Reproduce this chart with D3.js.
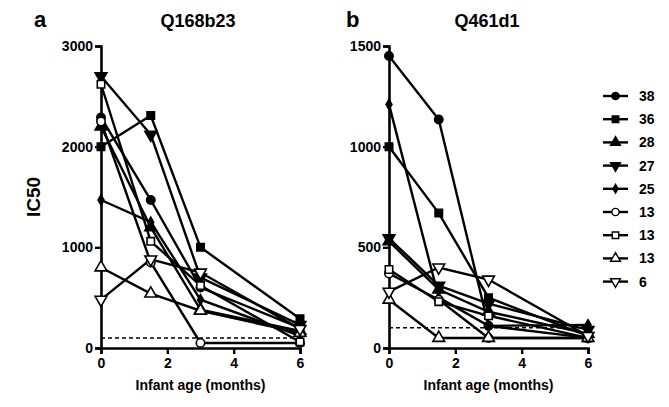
<!DOCTYPE html>
<html>
<head>
<meta charset="utf-8">
<script src="https://cdn.jsdelivr.net/npm/d3@7"></script>
<style>
  body { margin: 0; background: #fff; }
  text { font-family: "Liberation Sans", Arial, sans-serif; font-weight: bold; }
</style>
</head>
<body>
<svg id="chart" width="669" height="407"></svg>
<script>
// infant age (months)
var ages = [0, 1.5, 3, 6];
var seriesNames = ['38', '36', '28', '27', '25', '13', '13', '13', '6'];
var seriesShapes = ['circle', 'square', 'tri', 'tridown', 'diamond', 'circle', 'square', 'tri', 'tridown'];
var seriesOpen = [false, false, false, false, false, true, true, true, true];

// panel a - Q168b23
var q168 = [
  [2290, 1470, 600, 200],
  [2000, 2310, 1000, 290],
  [2200, 1200, 380, 170],
  [2700, 2120, 700, 230],
  [1470, 1250, 480, 120],
  [2250, 850, 50, 50],
  [2620, 1060, 620, 60],
  [800, 540, 370, 150],
  [480, 880, 750, 190]
];
// panel b - Q461d1
var q461 = [
  [1450, 1135, 110, 50],
  [1000, 670, 250, 60],
  [530, 290, 180, 70],
  [545, 310, 220, 90],
  [1210, 250, 110, 115],
  [370, 240, 50, 50],
  [390, 230, 160, 50],
  [240, 50, 50, 50],
  [280, 400, 340, 60]
];
var xTicks = [0, 2, 4, 6];
var cutoff = 100;

var svg = d3.select('#chart');

function symbolPath(shape, size) {
    var t = {circle: d3.symbolCircle, square: d3.symbolSquare, tri: d3.symbolTriangle,
             tridown: d3.symbolTriangle, diamond: d3.symbolDiamond}[shape];
    return d3.symbol().type(t).size(size)();
}

function drawPanel(opts) {
    var g = svg.append('g');
    var x = d3.scaleLinear().domain([0, 6]).range([opts.x0, opts.x0 + 199]);
    var y = d3.scaleLinear().domain([0, opts.ymax]).range([348, 46]);

    var yAx = g.append('g').attr('transform', 'translate(' + opts.x0 + ',0)')
        .call(d3.axisLeft(y).tickValues(opts.yTicks).tickFormat(d3.format('d')).tickSize(6).tickPadding(2));
    var xAx = g.append('g').attr('transform', 'translate(0,348)')
        .call(d3.axisBottom(x).tickValues(xTicks).tickFormat(d3.format('d')).tickSize(6).tickPadding(4));
    [yAx, xAx].forEach(function(a) {
        a.select('.domain').attr('stroke-width', 2.6).attr('stroke', '#000');
        a.selectAll('.tick line').attr('stroke-width', 2.4).attr('stroke', '#000');
        a.selectAll('.tick text').attr('font-size', 14).attr('fill', '#000')
            .attr('font-family', '"Liberation Sans", Arial, sans-serif').attr('font-weight', 'bold');
    });

    // dashed cutoff line
    g.append('line')
        .attr('x1', x(0)).attr('x2', x(6))
        .attr('y1', y(cutoff)).attr('y2', y(cutoff))
        .attr('stroke', '#000').attr('stroke-width', 1.5).attr('stroke-dasharray', '4,3');

    var line = d3.line().x(function(d, i) { return x(ages[i]); }).y(function(d) { return y(d); });

    opts.data.forEach(function(vals, s) {
        g.append('path').attr('d', line(vals))
            .attr('fill', 'none').attr('stroke', '#000').attr('stroke-width', 2.4);
    });
    opts.data.forEach(function(vals, s) {
        var shape = seriesShapes[s];
        var size = shape === 'diamond' ? 30 : (shape === 'tri' || shape === 'tridown' ? 60 : 55);
        g.selectAll(null).data(vals).enter().append('path')
            .attr('d', symbolPath(shape, size))
            .attr('transform', function(d, i) {
                return 'translate(' + x(ages[i]) + ',' + y(d) + ')' + (shape === 'tridown' ? ' rotate(180)' : '');
            })
            .attr('fill', seriesOpen[s] ? '#fff' : '#000')
            .attr('stroke', '#000').attr('stroke-width', 1.6);
    });

    svg.append('text').attr('x', opts.letterX).attr('y', 27).attr('font-size', 22).text(opts.letter);
    svg.append('text').attr('x', opts.titleX).attr('y', 27).attr('font-size', 18)
        .attr('text-anchor', 'middle').text(opts.title);
    svg.append('text').attr('x', x(3)).attr('y', 390).attr('font-size', 14)
        .attr('text-anchor', 'middle').text('Infant age (months)');
}

drawPanel({x0: 101, ymax: 3000, yTicks: [0, 1000, 2000, 3000], data: q168,
           letter: 'a', letterX: 34, title: 'Q168b23', titleX: 198});
drawPanel({x0: 389, ymax: 1500, yTicks: [0, 500, 1000, 1500], data: q461,
           letter: 'b', letterX: 346, title: 'Q461d1', titleX: 487});

svg.append('text').attr('transform', 'translate(40,197) rotate(-90)')
    .attr('font-size', 19).attr('text-anchor', 'middle').text('IC50');

// legend
var leg = svg.append('g');
seriesNames.forEach(function(name, s) {
    var ly = 96 + s * 23.2;
    leg.append('line').attr('x1', 603).attr('x2', 628).attr('y1', ly).attr('y2', ly)
        .attr('stroke', '#000').attr('stroke-width', 2.4);
    var shape = seriesShapes[s];
    var size = shape === 'diamond' ? 22 : 42;
    leg.append('path').attr('d', symbolPath(shape, size))
        .attr('transform', 'translate(615.5,' + ly + ')' + (shape === 'tridown' ? ' rotate(180)' : ''))
        .attr('fill', seriesOpen[s] ? '#fff' : '#000').attr('stroke', '#000').attr('stroke-width', 1.4);
    leg.append('text').attr('x', 639).attr('y', ly + 5).attr('font-size', 14).text(name);
});
</script>
</body>
</html>
